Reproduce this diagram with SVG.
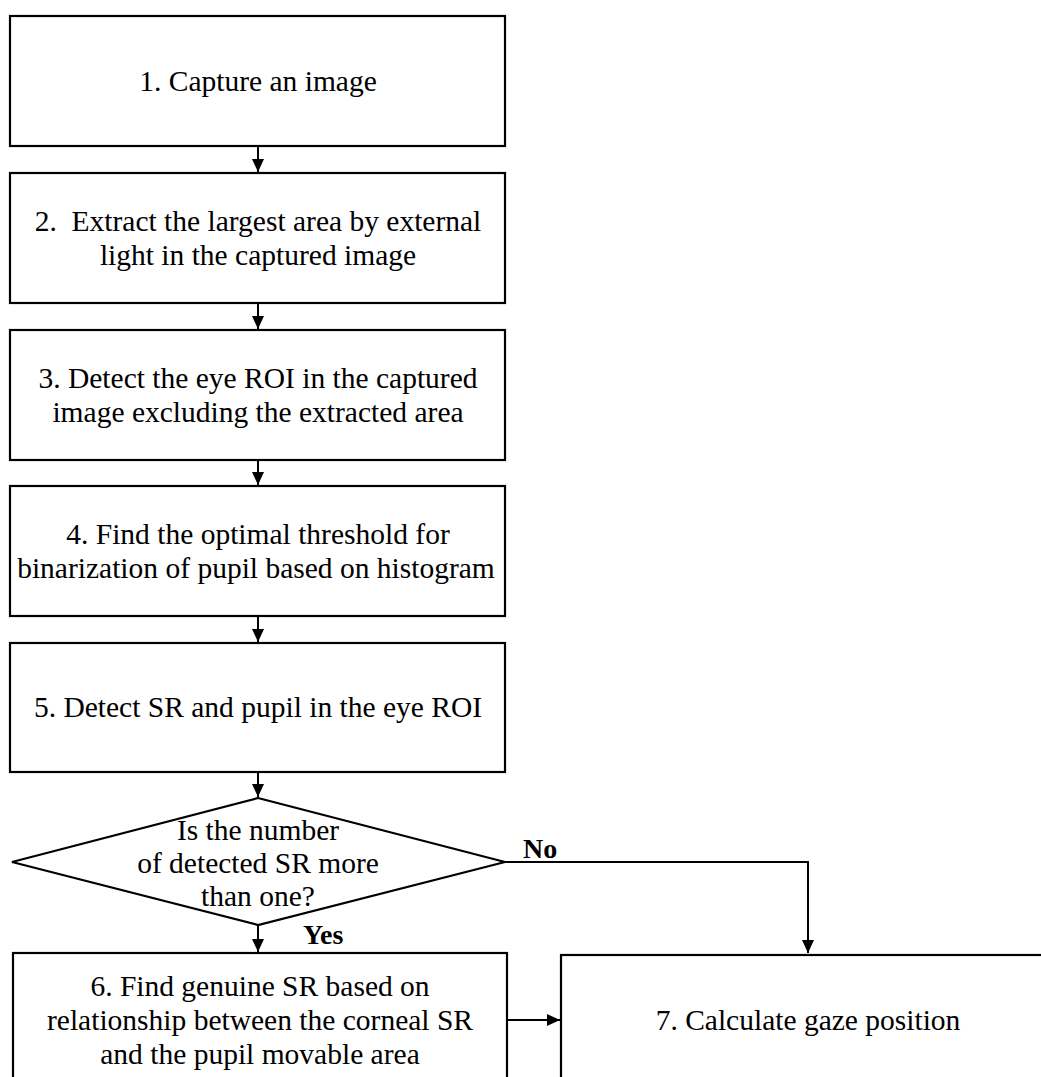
<svg xmlns="http://www.w3.org/2000/svg" width="1041" height="1077" viewBox="0 0 1041 1077">
<style>
.box{fill:#fff;stroke:#000;stroke-width:2.2}
.t{font-family:"Liberation Serif","Times New Roman",serif;font-size:29.5px;fill:#000;text-anchor:middle}
.lbl{font-family:"Liberation Serif","Times New Roman",serif;font-size:28px;font-weight:bold;fill:#000}
.c{fill:none;stroke:#000;stroke-width:2}
</style>
<defs>
<marker id="ah" markerUnits="userSpaceOnUse" markerWidth="14" markerHeight="14" viewBox="0 0 14 14" refX="13" refY="7" orient="auto">
<path d="M0,1 L13,7 L0,13 Z" fill="#000"/>
</marker>
</defs>
<rect width="1041" height="1077" fill="#fff"/>
<g id="connectors">
<line class="c" x1="258" y1="146" x2="258" y2="172" marker-end="url(#ah)"/>
<line class="c" x1="258" y1="303" x2="258" y2="329" marker-end="url(#ah)"/>
<line class="c" x1="258" y1="460" x2="258" y2="485" marker-end="url(#ah)"/>
<line class="c" x1="258" y1="616" x2="258" y2="642" marker-end="url(#ah)"/>
<line class="c" x1="258" y1="772" x2="258" y2="797" marker-end="url(#ah)"/>
<line class="c" x1="258" y1="925" x2="258" y2="952" marker-end="url(#ah)"/>
<polyline class="c" points="505,862 808,862 808,953" marker-end="url(#ah)"/>
<line class="c" x1="507" y1="1020" x2="560" y2="1020" marker-end="url(#ah)"/>
<text class="lbl" x="523" y="858">No</text>
<text class="lbl" x="303" y="944">Yes</text>
</g>
<g id="n1">
<rect class="box" x="10" y="16" width="495" height="130"/>
<text class="t" x="258" y="91">1. Capture an image</text>
</g>
<g id="n2">
<rect class="box" x="10" y="173" width="495" height="130"/>
<text class="t" x="258" y="231" xml:space="preserve">2.  Extract the largest area by external</text>
<text class="t" x="258" y="265">light in the captured image</text>
</g>
<g id="n3">
<rect class="box" x="10" y="330" width="495" height="130"/>
<text class="t" x="258" y="388">3. Detect the eye ROI in the captured</text>
<text class="t" x="258" y="422">image excluding the extracted area</text>
</g>
<g id="n4">
<rect class="box" x="10" y="486" width="495" height="130"/>
<text class="t" x="258" y="544">4. Find the optimal threshold for</text>
<text class="t" x="256" y="578">binarization of pupil based on histogram</text>
</g>
<g id="n5">
<rect class="box" x="10" y="643" width="495" height="129"/>
<text class="t" x="258" y="717">5. Detect SR and pupil in the eye ROI</text>
</g>
<g id="d1">
<polygon class="box" points="258,798 505,862 258,925 12,862"/>
<text class="t" x="258" y="840">Is the number</text>
<text class="t" x="258" y="873">of detected SR more</text>
<text class="t" x="258" y="906">than one?</text>
</g>
<g id="n6">
<rect class="box" x="13" y="953" width="494" height="140"/>
<text class="t" x="260" y="996">6. Find genuine SR based on</text>
<text class="t" x="260" y="1030">relationship between the corneal SR</text>
<text class="t" x="260" y="1064">and the pupil movable area</text>
</g>
<g id="n7">
<rect class="box" x="561" y="955" width="500" height="140"/>
<text class="t" x="808" y="1030">7. Calculate gaze position</text>
</g>
</svg>
